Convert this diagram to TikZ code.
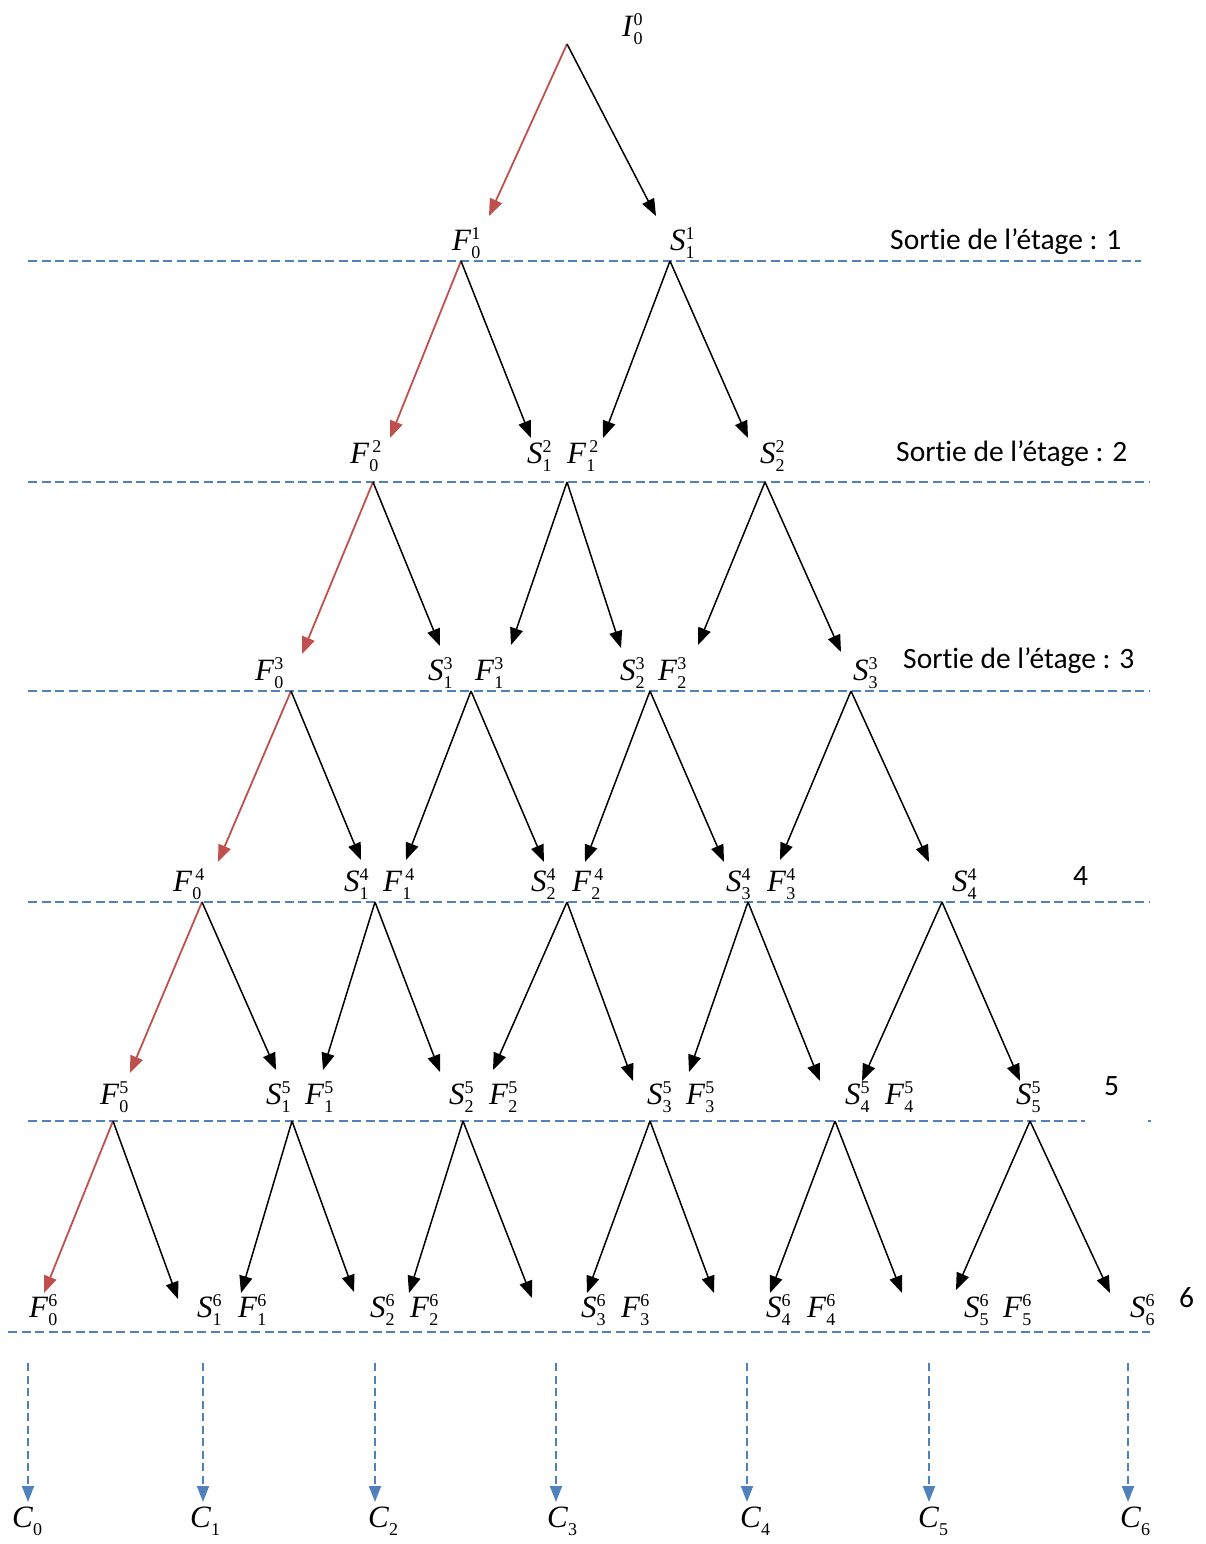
\documentclass[tikz,border=0pt]{standalone}
\usepackage{fontspec}
\setmainfont{Liberation Serif}
\newfontfamily\sortiefont[Ligatures=NoCommon]{Carlito}
\usetikzlibrary{arrows.meta}
\definecolor{lineblue}{RGB}{79,129,189}
\definecolor{pathred}{RGB}{192,80,77}
\newcommand\idx[1]{{\fontsize{18}{18}\selectfont #1}}
\newcommand\lb[3]{\textit{#1}\rlap{\raisebox{11pt}{\idx{#3}}}\raisebox{-8pt}{\idx{#2}}}
\newcommand\lc[2]{\textit{#1}\raisebox{-8pt}{\idx{#2}}}
\begin{document}
\begin{tikzpicture}[x=1pt,y=-1pt,
  lab/.style={inner sep=0pt, anchor=base west, font=\fontsize{31}{31}\selectfont},
  stagelab/.style={inner sep=0pt, anchor=base west, font=\sortiefont\fontsize{29.5}{29.5}\selectfont},
  branch/.style={line width=1.5pt, -{Triangle[length=17pt,width=13pt]}},
  redbranch/.style={line width=1.8pt, pathred, -{Triangle[length=17pt,width=13pt]}},
  levelline/.style={lineblue, line width=2pt, dash pattern=on 9pt off 4.5pt},
  outarrow/.style={lineblue, line width=1.8pt, dash pattern=on 8pt off 4.5pt, -{Triangle[length=16pt,width=12pt]}}]
\useasboundingbox (0,0) rectangle (1205,1544);

% level lines
\coordinate (l1a) at (28,261); \coordinate (l1b) at (1141,261);
\coordinate (l2a) at (28,482); \coordinate (l2b) at (1150,482);
\coordinate (l3a) at (28,691); \coordinate (l3b) at (1150,691);
\coordinate (l4a) at (28,902); \coordinate (l4b) at (1150,902);
\coordinate (l5a) at (28,1121); \coordinate (l5b) at (1085,1121);
\coordinate (l5c) at (1148,1121); \coordinate (l5d) at (1151,1121);
\coordinate (l6a) at (8,1332); \coordinate (l6b) at (1150,1332);
\foreach \a/\b in {l1a/l1b,l2a/l2b,l3a/l3b,l4a/l4b,l5a/l5b,l5c/l5d,l6a/l6b}
  \draw[levelline] (\a) -- (\b);

% labels
\node[lab] (I00) at (622,37) {\lb{I}{0}{0}};
\node[lab] (F01) at (452,250) {\lb{F}{0}{1}};
\node[lab] (S11) at (670,250) {\lb{S}{1}{1}};
\node[stagelab] (st1) at (890,249) {Sort\kern0pt ie de l’étage : 1};

\node[lab] (F02) at (350,463) {\lb{F}{0}{\,2}};
\node[lab] (S12) at (527,463) {\lb{S}{1}{2}};
\node[lab] (F12) at (567,463) {\lb{F}{1}{\,2}};
\node[lab] (S22) at (760,463) {\lb{S}{2}{2}};
\node[stagelab] (st2) at (896,461) {Sort\kern0pt ie de l’étage : 2};

\node[lab] (F03) at (255,680) {\lb{F}{0}{3}};
\node[lab] (S13) at (428,680) {\lb{S}{1}{3}};
\node[lab] (F13) at (475,680) {\lb{F}{1}{3}};
\node[lab] (S23) at (620,680) {\lb{S}{2}{3}};
\node[lab] (F23) at (658,680) {\lb{F}{2}{3}};
\node[lab] (S33) at (853,680) {\lb{S}{3}{3}};
\node[stagelab] (st3) at (903,668) {Sort\kern0pt ie de l’étage : 3};

\node[lab] (F04) at (173,891) {\lb{F}{0}{\,4}};
\node[lab] (S14) at (344,891) {\lb{S}{1}{4}};
\node[lab] (F14) at (383,891) {\lb{F}{1}{\,4}};
\node[lab] (S24) at (531,891) {\lb{S}{2}{4}};
\node[lab] (F24) at (572,891) {\lb{F}{2}{\,4}};
\node[lab] (S34) at (726,891) {\lb{S}{3}{4}};
\node[lab] (F34) at (767,891) {\lb{F}{3}{4}};
\node[lab] (S44) at (952,891) {\lb{S}{4}{4}};
\node[stagelab] (st4) at (1073,885) {4};

\node[lab] (F05) at (100,1104) {\lb{F}{0}{5}};
\node[lab] (S15) at (266,1104) {\lb{S}{1}{5}};
\node[lab] (F15) at (305,1104) {\lb{F}{1}{5}};
\node[lab] (S25) at (449,1104) {\lb{S}{2}{5}};
\node[lab] (F25) at (489,1104) {\lb{F}{2}{5}};
\node[lab] (S35) at (647,1104) {\lb{S}{3}{5}};
\node[lab] (F35) at (686,1104) {\lb{F}{3}{5}};
\node[lab] (S45) at (845,1104) {\lb{S}{4}{5}};
\node[lab] (F45) at (885,1104) {\lb{F}{4}{5}};
\node[lab] (S55) at (1016,1104) {\lb{S}{5}{5}};
\node[stagelab] (st5) at (1104,1095) {5};

\node[lab] (F06) at (29,1317) {\lb{F}{0}{6}};
\node[lab] (S16) at (197,1317) {\lb{S}{1}{6}};
\node[lab] (F16) at (238,1317) {\lb{F}{1}{6}};
\node[lab] (S26) at (370,1317) {\lb{S}{2}{6}};
\node[lab] (F26) at (410,1317) {\lb{F}{2}{6}};
\node[lab] (S36) at (581,1317) {\lb{S}{3}{6}};
\node[lab] (F36) at (621,1317) {\lb{F}{3}{6}};
\node[lab] (S46) at (766,1317) {\lb{S}{4}{6}};
\node[lab] (F46) at (807,1317) {\lb{F}{4}{6}};
\node[lab] (S56) at (964,1317) {\lb{S}{5}{6}};
\node[lab] (F56) at (1003,1317) {\lb{F}{5}{6}};
\node[lab] (S66) at (1130,1317) {\lb{S}{6}{6}};
\node[stagelab] (st6) at (1179,1307) {6};

% branch points
\coordinate (b0) at (567,44);
\coordinate (b11) at (461,261); \coordinate (b12) at (670,261);
\coordinate (b21) at (373,482); \coordinate (b22) at (567,482); \coordinate (b23) at (765,482);
\coordinate (b31) at (291,691); \coordinate (b32) at (471,691); \coordinate (b33) at (650,691); \coordinate (b34) at (851,691);
\coordinate (b41) at (202,902); \coordinate (b42) at (375,902); \coordinate (b43) at (567,902); \coordinate (b44) at (748,902); \coordinate (b45) at (942,902);
\coordinate (b51) at (113,1121); \coordinate (b52) at (292,1121); \coordinate (b53) at (463,1121); \coordinate (b54) at (650,1121); \coordinate (b55) at (835,1121); \coordinate (b56) at (1030,1121);

% arrow tips
\coordinate (t0l) at (489,216); \coordinate (t0r) at (656,216);
\coordinate (t11l) at (390,438); \coordinate (t11r) at (531,438);
\coordinate (t12l) at (603,438); \coordinate (t12r) at (748,438);
\coordinate (t21l) at (302,654); \coordinate (t21r) at (440,646);
\coordinate (t22l) at (511,645); \coordinate (t22r) at (621,648);
\coordinate (t23l) at (698,645); \coordinate (t23r) at (841,652);
\coordinate (t31l) at (218,862); \coordinate (t31r) at (361,860);
\coordinate (t32l) at (406,860); \coordinate (t32r) at (544,862);
\coordinate (t33l) at (585,862); \coordinate (t33r) at (724,862);
\coordinate (t34l) at (780,860); \coordinate (t34r) at (929,862);
\coordinate (t41l) at (130,1073); \coordinate (t41r) at (276,1070);
\coordinate (t42l) at (323,1070); \coordinate (t42r) at (440,1072);
\coordinate (t43l) at (493,1070); \coordinate (t43r) at (633,1081);
\coordinate (t44l) at (689,1072); \coordinate (t44r) at (820,1081);
\coordinate (t45l) at (862,1081); \coordinate (t45r) at (1020,1081);
\coordinate (t51l) at (44,1293); \coordinate (t51r) at (178,1299);
\coordinate (t52l) at (241,1293); \coordinate (t52r) at (354,1292);
\coordinate (t53l) at (409,1293); \coordinate (t53r) at (532,1298);
\coordinate (t54l) at (587,1293); \coordinate (t54r) at (714,1293);
\coordinate (t55l) at (770,1293); \coordinate (t55r) at (902,1293);
\coordinate (t56l) at (956,1290); \coordinate (t56r) at (1110,1293);

% red path (always-left branch)
\foreach \b/\t in {b0/t0l,b11/t11l,b21/t21l,b31/t31l,b41/t41l,b51/t51l}
  \draw[redbranch] (\b) -- (\t);
% black branches
\foreach \b/\t in {b0/t0r,b11/t11r,b12/t12l,b12/t12r,
  b21/t21r,b22/t22l,b22/t22r,b23/t23l,b23/t23r,
  b31/t31r,b32/t32l,b32/t32r,b33/t33l,b33/t33r,b34/t34l,b34/t34r,
  b41/t41r,b42/t42l,b42/t42r,b43/t43l,b43/t43r,b44/t44l,b44/t44r,b45/t45l,b45/t45r,
  b51/t51r,b52/t52l,b52/t52r,b53/t53l,b53/t53r,b54/t54l,b54/t54r,b55/t55l,b55/t55r,b56/t56l,b56/t56r}
  \draw[branch] (\b) -- (\t);

% outputs
\foreach \i/\x/\lx in {0/28/12,1/203/190,2/375/368,3/556/547,4/747/740,5/929/918,6/1128/1120}{
  \coordinate (o\i) at (\x,1363);
  \node[lab] (C\i) at (\lx,1527) {\lc{C}{\i}};
  \draw[outarrow] (o\i) -- (\x,1502);
}
\end{tikzpicture}
\end{document}
